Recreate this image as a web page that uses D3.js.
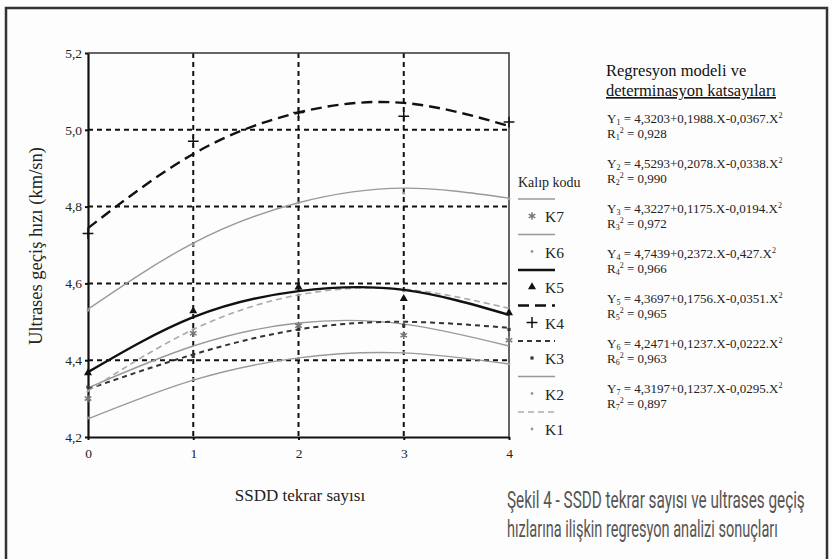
<!DOCTYPE html>
<html>
<head>
<meta charset="utf-8">
<script src="https://cdn.jsdelivr.net/npm/d3@7"></script>
<style>
  body { margin: 0; background: #fff; }
  .serif { font-family: "Liberation Serif", "DejaVu Serif", serif; }
</style>
</head>
<body>
<div id="chart"></div>
<script>
// Repetition counts on the x axis
const repeats = [0, 1, 2, 3, 4];
const yTicks = [4.2, 4.4, 4.6, 4.8, 5.0, 5.2];

// Fitted curves at each repetition count
const fitK1 = [4.320, 4.480, 4.570, 4.585, 4.535];
const fitK2 = [4.533, 4.705, 4.810, 4.848, 4.822];
const fitK3 = [4.325, 4.415, 4.480, 4.500, 4.484];
const fitK4 = [4.744, 4.937, 5.045, 5.070, 5.010];
const fitK5 = [4.369, 4.512, 4.580, 4.583, 4.518];
const fitK6 = [4.247, 4.348, 4.406, 4.419, 4.390];
const fitK7 = [4.328, 4.437, 4.497, 4.494, 4.437];

// Measured points
const obsK1 = [4.320, 4.480, 4.570, 4.580, 4.530];
const obsK2 = [4.530, 4.700, 4.810, 4.835, 4.820];
const obsK3 = [4.330, 4.410, 4.480, 4.490, 4.480];
const obsK4 = [4.730, 4.970, 5.045, 5.035, 5.020];
const obsK5 = [4.367, 4.528, 4.590, 4.560, 4.523];
const obsK6 = [4.250, 4.350, 4.405, 4.420, 4.390];
const obsK7 = [4.300, 4.470, 4.490, 4.465, 4.452];

// Legend order and regression texts
const moldCodes = ["K7", "K6", "K5", "K4", "K3", "K2", "K1"];
const equations = [
    ["4,3203+0,1988.X-0,0367.X", "0,928"],
    ["4,5293+0,2078.X-0,0338.X", "0,990"],
    ["4,3227+0,1175.X-0,0194.X", "0,972"],
    ["4,7439+0,2372.X-0,427.X", "0,966"],
    ["4,3697+0,1756.X-0,0351.X", "0,965"],
    ["4,2471+0,1237.X-0,0222.X", "0,963"],
    ["4,3197+0,1237.X-0,0295.X", "0,897"]
];
const captionLines = [
    "Şekil 4 - SSDD tekrar sayısı ve ultrases geçiş",
    "hızlarına ilişkin regresyon analizi sonuçları"
];

const width = 833, height = 559;
const margin = { top: 53, bottom: 122, left: 88, right: 324 };

const svg = d3.select("#chart")
    .append("svg")
    .attr("width", width)
    .attr("height", height)
    .style("background", "#fdfdfd");

// Outer frame of the figure
svg.append("rect")
    .attr("x", 6).attr("y", 8)
    .attr("width", 821).attr("height", 570)
    .attr("fill", "none")
    .attr("stroke", "#333")
    .attr("stroke-width", 2.5);

const xScale = d3.scaleLinear()
    .domain([0, 4])
    .range([margin.left, width - margin.right]);

const yScale = d3.scaleLinear()
    .domain([4.2, 5.2])
    .range([height - margin.bottom, margin.top]);

const comma = d => d3.format(".1f")(d).replace(".", ",");

// Dashed grid
svg.append("g")
    .selectAll("line")
    .data(yTicks.slice(1, 5))
    .enter()
    .append("line")
    .attr("x1", xScale(0)).attr("x2", xScale(4))
    .attr("y1", d => yScale(d)).attr("y2", d => yScale(d))
    .attr("stroke", "#111")
    .attr("stroke-width", 2)
    .attr("stroke-dasharray", "5,4");

svg.append("g")
    .selectAll("line")
    .data(repeats.slice(1, 4))
    .enter()
    .append("line")
    .attr("x1", d => xScale(d)).attr("x2", d => xScale(d))
    .attr("y1", yScale(5.2)).attr("y2", yScale(4.2))
    .attr("stroke", "#111")
    .attr("stroke-width", 2)
    .attr("stroke-dasharray", "5,4");

// Top and right border of the plot
svg.append("path")
    .attr("d", `M${xScale(0)},${yScale(5.2)}H${xScale(4)}V${yScale(4.2)}`)
    .attr("fill", "none")
    .attr("stroke", "#333")
    .attr("stroke-width", 1.5);

// Axes
const xAxis = svg.append("g")
    .attr("transform", `translate(0,${yScale(4.2)})`)
    .call(d3.axisBottom(xScale).tickValues(repeats).tickFormat(d3.format("d")).tickSize(3).tickSizeOuter(0));

const yAxis = svg.append("g")
    .attr("transform", `translate(${xScale(0)},0)`)
    .call(d3.axisLeft(yScale).tickValues(yTicks).tickFormat(comma).tickSize(3).tickSizeOuter(0));

[xAxis, yAxis].forEach(ax => {
    ax.attr("font-family", null);
    ax.select(".domain").attr("stroke", "#111").attr("stroke-width", 2.2);
    ax.selectAll(".tick line").attr("stroke", "#111").attr("stroke-width", 2);
    ax.selectAll(".tick text")
        .attr("class", "serif")
        .style("font-size", "13.5px")
        .attr("fill", "#222");
});
xAxis.selectAll(".tick text").attr("dy", "1.1em");
yAxis.selectAll(".tick text").attr("x", -6);

// Axis labels
svg.append("text")
    .attr("class", "serif")
    .attr("x", 300)
    .attr("y", 501)
    .attr("text-anchor", "middle")
    .style("font-size", "17px")
    .attr("fill", "#222")
    .text("SSDD tekrar sayısı");

svg.append("text")
    .attr("class", "serif")
    .attr("transform", "translate(42,246) rotate(-90)")
    .attr("text-anchor", "middle")
    .style("font-size", "18.5px")
    .attr("fill", "#222")
    .text("Ultrases geçiş hızı (km/sn)");

// Line style of each mold code
const styles = {
    K7: { fit: fitK7, obs: obsK7, color: "#999", w: 1.4, dash: null, mark: "asterisk" },
    K6: { fit: fitK6, obs: obsK6, color: "#999", w: 1.4, dash: null, mark: "dot" },
    K5: { fit: fitK5, obs: obsK5, color: "#111", w: 2.4, dash: null, mark: "triangle" },
    K4: { fit: fitK4, obs: obsK4, color: "#111", w: 2.4, dash: "11,6", mark: "plus" },
    K3: { fit: fitK3, obs: obsK3, color: "#333", w: 2, dash: "5,4", mark: "square" },
    K2: { fit: fitK2, obs: obsK2, color: "#999", w: 1.4, dash: null, mark: "dot" },
    K1: { fit: fitK1, obs: obsK1, color: "#aaa", w: 1.6, dash: "6,4", mark: "dot" }
};

const line = d3.line()
    .x((d, i) => xScale(repeats[i]))
    .y(d => yScale(d))
    .curve(d3.curveNatural);

const symbolOf = {
    asterisk: d3.symbol().type(d3.symbolAsterisk).size(40),
    triangle: d3.symbol().type(d3.symbolTriangle).size(28),
    plus: d3.symbol().type(d3.symbolPlus).size(40),
    square: d3.symbol().type(d3.symbolSquare).size(10),
    dot: d3.symbol().type(d3.symbolCircle).size(6)
};

function drawMark(g, kind, color) {
    const p = g.append("path").attr("d", symbolOf[kind]());
    if (kind === "asterisk" || kind === "plus") {
        p.attr("fill", "none").attr("stroke", kind === "plus" ? "#111" : "#777").attr("stroke-width", 1.5);
    } else {
        p.attr("fill", kind === "dot" ? "#999" : color);
    }
}

// Curves, light ones first
["K6", "K2", "K7", "K3", "K1", "K4", "K5"].forEach(k => {
    const s = styles[k];
    svg.append("path")
        .datum(s.fit)
        .attr("d", line)
        .attr("fill", "none")
        .attr("stroke", s.color)
        .attr("stroke-width", s.w)
        .attr("stroke-dasharray", s.dash);

    s.obs.forEach((v, i) => {
        const g = svg.append("g")
            .attr("transform", `translate(${xScale(repeats[i])},${yScale(v)})`);
        drawMark(g, s.mark, s.color);
    });
});

// Legend
svg.append("text")
    .attr("class", "serif")
    .attr("x", 518).attr("y", 187)
    .style("font-size", "14px")
    .attr("fill", "#222")
    .text("Kalıp kodu");

moldCodes.forEach((k, i) => {
    const s = styles[k];
    const y0 = 199 + i * 35.5;
    svg.append("line")
        .attr("x1", 518).attr("x2", 555)
        .attr("y1", y0).attr("y2", y0)
        .attr("stroke", s.color)
        .attr("stroke-width", s.w)
        .attr("stroke-dasharray", s.dash);
    const g = svg.append("g").attr("transform", `translate(532,${y0 + 17})`);
    drawMark(g, s.mark, s.color);
    svg.append("text")
        .attr("class", "serif")
        .attr("x", 545).attr("y", y0 + 23)
        .style("font-size", "15.5px")
        .attr("fill", "#222")
        .text(k);
});

// Regression models
svg.append("text")
    .attr("class", "serif")
    .attr("x", 606).attr("y", 76)
    .style("font-size", "16.5px")
    .attr("fill", "#111")
    .text("Regresyon modeli ve");

svg.append("text")
    .attr("class", "serif")
    .attr("x", 606).attr("y", 96)
    .style("font-size", "16.5px")
    .style("text-decoration", "underline")
    .attr("fill", "#111")
    .text("determinasyon katsayıları");

equations.forEach((eq, i) => {
    const yb = 123 + i * 45;
    const t1 = svg.append("text")
        .attr("class", "serif")
        .attr("x", 607).attr("y", yb)
        .style("font-size", "13px")
        .attr("fill", "#222");
    t1.append("tspan").text("Y");
    t1.append("tspan").attr("dy", 2).style("font-size", "8px").text(i + 1);
    t1.append("tspan").attr("dy", -2).text(" = " + eq[0]);
    t1.append("tspan").attr("dy", -5).style("font-size", "8px").text("2");

    const t2 = svg.append("text")
        .attr("class", "serif")
        .attr("x", 607).attr("y", yb + 15)
        .style("font-size", "13px")
        .attr("fill", "#222");
    t2.append("tspan").text("R");
    t2.append("tspan").attr("dy", 2).style("font-size", "8px").text(i + 1);
    t2.append("tspan").attr("dy", -7).style("font-size", "8px").text("2");
    t2.append("tspan").attr("dy", 5).text(" = " + eq[1]);
});

// Figure caption, squeezed to the width of the condensed face in the original
const captionWidths = [298, 271];
captionLines.forEach((txt, i) => {
    const t = svg.append("text")
        .attr("x", 0).attr("y", 0)
        .style("font-family", "Roboto, 'Liberation Sans', sans-serif")
        .style("font-size", "24px")
        .attr("fill", "#555")
        .text(txt);
    const k = captionWidths[i] / t.node().getComputedTextLength();
    t.attr("transform", `translate(507,${508 + i * 29}) scale(${k},1)`);
});
</script>
</body>
</html>
